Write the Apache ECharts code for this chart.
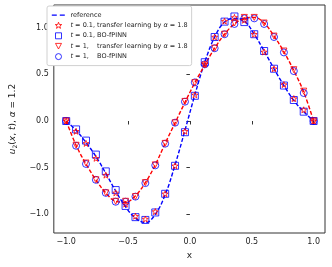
<!DOCTYPE html>
<html><head><meta charset="utf-8">
<script src="https://cdn.jsdelivr.net/npm/echarts@6/dist/echarts.min.js"></script>
<style>html,body{margin:0;padding:0;background:#fff}#c{width:332px;height:267px}</style>
</head><body><div id="c"></div>
<script>
const xs = [-1,-0.92,-0.84,-0.76,-0.68,-0.6,-0.52,-0.44,-0.36,-0.28,-0.2,-0.12,-0.04,0.04,0.12,0.2,0.28,0.36,0.44,0.52,0.6,0.68,0.76,0.84,0.92,1];
const refT01 = [0,-0.10,-0.23,-0.38,-0.56,-0.75,-0.92,-1.04,-1.09,-1.00,-0.79,-0.47,-0.10,0.28,0.63,0.90,1.06,1.10,1.07,0.93,0.75,0.56,0.38,0.22,0.10,0];
const refT1 = [0,-0.26,-0.46,-0.63,-0.77,-0.86,-0.87,-0.80,-0.66,-0.47,-0.24,-0.02,0.20,0.41,0.60,0.78,0.93,1.04,1.10,1.11,1.05,0.91,0.74,0.54,0.31,0];
const tlT01 = [0,-0.11,-0.24,-0.40,-0.58,-0.77,-0.89,-1.02,-1.05,-0.97,-0.78,-0.48,-0.11,0.28,0.61,0.90,1.07,1.11,1.08,0.93,0.74,0.56,0.39,0.24,0.12,0];
const boT01 = [0,-0.09,-0.21,-0.36,-0.54,-0.74,-0.91,-1.03,-1.06,-0.98,-0.78,-0.48,-0.12,0.27,0.63,0.90,1.065,1.12,1.06,0.93,0.75,0.56,0.38,0.225,0.10,0];
const tlT1 = [0,-0.26,-0.45,-0.63,-0.77,-0.86,-0.86,-0.81,-0.66,-0.47,-0.24,-0.02,0.21,0.41,0.60,0.78,0.93,1.05,1.11,1.11,1.05,0.91,0.75,0.55,0.32,0];
const boT1 = [0,-0.265,-0.46,-0.63,-0.77,-0.865,-0.865,-0.81,-0.665,-0.475,-0.243,-0.018,0.207,0.414,0.607,0.78,0.93,1.04,1.10,1.10,1.04,0.90,0.735,0.535,0.30,0];
const tickVals = [-1,-0.5,0,0.5,1];
const legendNames = ['reference','{i|t} = 0.1, transfer learning by {i|α} = 1.8','{i|t} = 0.1, BO-fPINN','{i|t} = 1,    transfer learning by {i|α} = 1.8','{i|t} = 1,    BO-fPINN'];

const pair = a => xs.map((x,i)=>[x,a[i]]);
function starPath(cx, cy, R, r){
  let s = '';
  for (let k=0;k<10;k++){
    const ang = -Math.PI/2 + k*Math.PI/5;
    const rad = k%2===0 ? R : r;
    s += (k===0?'M':'L') + (cx+rad*Math.cos(ang)).toFixed(2) + ',' + (cy+rad*Math.sin(ang)).toFixed(2) + ' ';
  }
  return s + 'Z';
}
const star = 'path://' + starPath(50,50,50,20);
const tri = 'path://M0,0 L100,0 L50,90 Z';
// legend icons in a 14x7 box
const box = 'M0,0 M14,7 ';
const icRef = 'path://' + box + 'M0.3,2.9 L5.3,2.9 L5.3,4.3 L0.3,4.3 Z M8.3,2.9 L13.3,2.9 L13.3,4.3 L8.3,4.3 Z';
const icStar = 'path://' + box + starPath(7,3.7,3.4,1.4);
const icRect = 'path://' + box + 'M4,0.5 L10,0.5 L10,6.5 L4,6.5 Z';
const icTri = 'path://' + box + 'M4,0.7 L10,0.7 L7,6.3 Z';
const icCirc = 'path://' + box + 'M10,3.5 A3,3 0 1 1 4,3.5 A3,3 0 1 1 10,3.5 Z';
const F = 'DejaVu Sans';
const fmt = v => (v<0?'\u2212':'') + Math.abs(v).toFixed(1);
const chart = echarts.init(document.getElementById('c'), null, {renderer:'canvas'});
const hollow = (c)=>({color:'rgba(0,0,0,0)', borderColor:c, borderWidth:1});
chart.setOption({
  animation:false,
  grid:{left:46,right:7,top:5,bottom:34,show:true,borderColor:'#333',borderWidth:1,backgroundColor:'transparent'},
  legend:{
    data:[
      {name:legendNames[0],icon:icRef,itemStyle:{color:'#0000ff',borderWidth:0}},
      {name:legendNames[1],icon:icStar,itemStyle:hollow('#ff0000')},
      {name:legendNames[2],icon:icRect,itemStyle:hollow('#0000ff')},
      {name:legendNames[3],icon:icTri,itemStyle:hollow('#ff0000')},
      {name:legendNames[4],icon:icCirc,itemStyle:hollow('#0000ff')}
    ],
    orient:'vertical', left:47, top:6, padding:[5,4,5,4],
    backgroundColor:'#fff', borderColor:'#d0d0d0', borderWidth:1, borderRadius:2,
    itemWidth:14, itemHeight:7, itemGap:2.4,
    textStyle:{fontFamily:F,fontSize:6.5,lineHeight:8,color:'#222',rich:{i:{fontStyle:'italic',fontFamily:F,fontSize:6.5,lineHeight:8,color:'#222'}}}
  },
  xAxis:{type:'value',min:-1.1,max:1.092,
    name:'x',nameLocation:'middle',nameGap:16,nameTextStyle:{fontFamily:F,fontSize:9,color:'#222'},
    axisLine:{show:false},splitLine:{show:false},
    axisTick:{show:true,customValues:tickVals,length:3.5,lineStyle:{color:'#333'}},
    axisLabel:{customValues:tickVals,formatter:fmt,fontFamily:F,fontSize:8,color:'#222',margin:5}},
  yAxis:{type:'value',min:-1.2,max:1.243,
    name:'{i|u}{s|2}({i|x}, {i|t}), {i|α} = 1.2',nameLocation:'middle',nameGap:28,
    nameTextStyle:{fontFamily:F,fontSize:9,color:'#222',rich:{i:{fontStyle:'italic',fontFamily:F,fontSize:9,color:'#222'},s:{fontStyle:'normal',fontFamily:F,fontSize:6,color:'#222',verticalAlign:'bottom',padding:[6,0,0,0]}}},
    axisLine:{show:false},splitLine:{show:false},
    axisTick:{show:true,customValues:tickVals,length:3.5,lineStyle:{color:'#333'}},
    axisLabel:{customValues:tickVals,formatter:fmt,fontFamily:F,fontSize:8,color:'#222',margin:5}},
  series:[
    {name:legendNames[0],type:'line',data:pair(refT01),smooth:0.4,symbol:'none',lineStyle:{color:'#0000ff',width:1.4,type:[4,2]},itemStyle:{color:'#0000ff'},z:2},
    {name:'ref1',type:'line',data:pair(refT1),smooth:0.4,symbol:'none',lineStyle:{color:'#ff0000',width:1.4,type:[4,2]},itemStyle:{color:'#ff0000'},z:2},
    {name:legendNames[1],type:'scatter',data:pair(tlT01),symbol:star,symbolSize:6,itemStyle:hollow('#ff0000'),z:4},
    {name:legendNames[2],type:'scatter',data:pair(boT01),symbol:'rect',symbolSize:7,itemStyle:hollow('#0000ff'),z:3},
    {name:legendNames[3],type:'scatter',data:pair(tlT1),symbol:tri,symbolSize:6,itemStyle:hollow('#ff0000'),z:4},
    {name:legendNames[4],type:'scatter',data:pair(boT1),symbol:'circle',symbolSize:7,itemStyle:hollow('#0000ff'),z:3}
  ]
});
</script></body></html>
